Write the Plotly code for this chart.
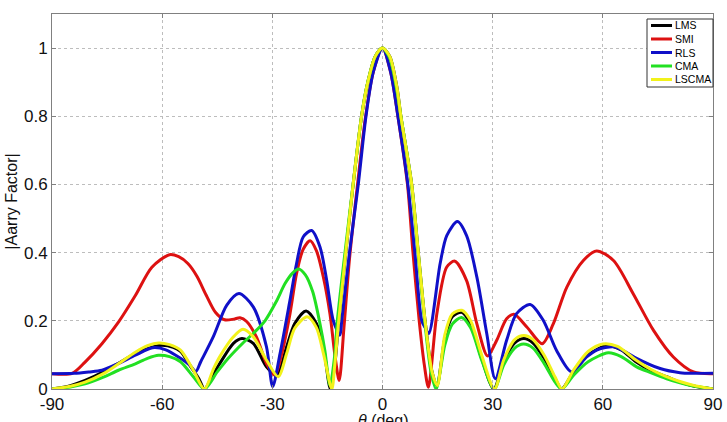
import plotly.graph_objects as go

# ---------------- data ----------------
lms_theta = [-90, -85, -81, -76, -72, -67.3, -63, -60, -57, -55, -52, -50, -48.5, -46, -44.3, -40.6, -38.3,
             -35.2, -31.6, -28.8, -26.1, -23.9, -20.8, -18, -16.1, -14.2, -13, -12, -10, -8, -5.7, -4, -2, 0,
             2, 4, 5, 7.95, 9.75, 11.6, 13.5, 14.8, 17, 19, 21.6, 24, 27, 30.3, 33, 36, 38.5, 41, 44, 47, 48.8,
             52, 56, 61, 65, 69, 73, 77.4, 81, 85, 90]
lms_val = [0, 0.01, 0.025, 0.05, 0.075, 0.104, 0.122, 0.128, 0.122, 0.11, 0.062, 0.03, 0.0, 0.045, 0.075, 0.134, 0.148,
           0.134, 0.065, 0.04, 0.124, 0.192, 0.229, 0.192, 0.124, 0.0, 0.07, 0.19, 0.4, 0.6, 0.8, 0.9, 0.975, 1.0,
           0.975, 0.88, 0.8, 0.6, 0.4, 0.2, 0.05, 0.01, 0.15, 0.212, 0.225, 0.19, 0.09, 0.0, 0.08, 0.135, 0.148, 0.135, 0.09, 0.03, 0.0,
           0.05, 0.1, 0.127, 0.115, 0.08, 0.055, 0.036, 0.02, 0.008, 0]

smi_theta = [-90, -84.5, -81, -76.4, -71.9, -67.3, -62.8, -58, -55.5, -53, -50.5, -48, -45.5, -43, -40.5, -38.8, -37,
             -34.3, -31.6, -29.3, -27.5, -25.2, -23.4, -21.6, -19.7, -18, -16.1, -14.3, -12.9, -11.8, -10.5, -9,
             -6.8, -4.6, -2.5, 0, 2.2, 4.2, 6.8, 8.3, 10.0, 11.4, 12.5, 14.8, 17.5, 19.7, 22.9, 25.7, 28.6, 31.1,
             33.8, 35.8, 39.3, 43.5, 46.5, 50.2, 54.7, 58.3, 62.9, 68.3, 73.8, 79.2, 84.7, 90]
smi_val = [0.045, 0.046, 0.079, 0.133, 0.196, 0.274, 0.357, 0.394, 0.388, 0.368, 0.33, 0.275, 0.225, 0.203, 0.205, 0.209, 0.198,
           0.152, 0.075, 0.04, 0.1, 0.22, 0.339, 0.41, 0.435, 0.406, 0.328, 0.22, 0.094, 0.025, 0.18, 0.38,
           0.6, 0.8, 0.93, 1.0, 0.93, 0.8, 0.6, 0.4, 0.2, 0.07, 0.005, 0.221, 0.358, 0.375, 0.318, 0.191, 0.097, 0.143,
           0.206, 0.219, 0.182, 0.133, 0.191, 0.299, 0.377, 0.405, 0.377, 0.279, 0.172, 0.094, 0.05, 0.045]

rls_theta = [-90, -84, -80, -76.4, -71.9, -67.3, -62.6, -59, -55, -52.5, -50.8, -49.5, -46.1, -42.4, -39.1, -35.2,
             -31.6, -29.9, -27.9, -25.2, -23.4, -21.6, -19.3, -17, -15.2, -13.4, -11.6, -11.1, -9, -6.6, -4.5,
             -2.5, 0, 2.2, 4.2, 6.9, 8.8, 10.7, 11.6, 12.6, 15.7, 17.5, 20.4, 22.9, 25.7, 28.4, 30.7, 33.8, 36.5,
             40.2, 43.8, 47.4, 51.5, 55.6, 58.5, 62.9, 66, 69.2, 75.6, 81, 85, 90]
rls_val = [0.045, 0.046, 0.05, 0.055, 0.075, 0.099, 0.121, 0.115, 0.09, 0.07, 0.052, 0.08, 0.153, 0.246, 0.28, 0.241,
           0.124, 0.007, 0.104, 0.26, 0.368, 0.446, 0.465, 0.416, 0.319, 0.201, 0.158, 0.2, 0.4, 0.6, 0.8,
           0.93, 1.0, 0.93, 0.8, 0.6, 0.4, 0.2, 0.18, 0.163, 0.368, 0.45, 0.491, 0.45, 0.328, 0.162, 0.03, 0.143, 0.221,
           0.248, 0.201, 0.113, 0.05, 0.094, 0.115, 0.124, 0.11, 0.09, 0.06, 0.048, 0.046, 0.046]

cma_theta = [-90, -85, -81, -76, -71.9, -67.3, -64, -61, -58, -55, -51.5, -48.5, -45, -42, -38, -35, -32, -29,
             -26.5, -24.5, -22.9, -21, -19, -17, -15.7, -14.3, -13, -12.3, -10, -8, -5.7, -4, -2, 0, 2, 4, 5, 7.9,
             9.7, 11.5, 13.2, 14.6, 17, 19, 21.5, 24, 27, 30.4, 33, 36, 38.4, 41, 44, 47, 48.8, 52, 56, 61.5, 65,
             69.2, 73, 77.4, 81, 85, 90]
cma_val = [0, 0.006, 0.015, 0.035, 0.055, 0.074, 0.09, 0.099, 0.095, 0.08, 0.036, 0.0, 0.05, 0.09, 0.135, 0.165, 0.2, 0.255,
           0.31, 0.34, 0.352, 0.335, 0.285, 0.19, 0.113, 0.01, 0.1, 0.2, 0.42, 0.6, 0.8, 0.9, 0.975, 1.0, 0.97, 0.87, 0.8, 0.6,
           0.4, 0.2, 0.05, 0.0, 0.13, 0.19, 0.21, 0.18, 0.085, 0.0, 0.07, 0.12, 0.132, 0.12, 0.075, 0.02, 0.0, 0.04, 0.08, 0.106, 0.095,
           0.065, 0.048, 0.03, 0.018, 0.008, 0]

lscma_theta = [-90, -85, -81, -76, -71.9, -67.3, -64, -61, -58, -55, -51.5, -48.5, -46, -44.3, -40.6, -38, -35.2,
               -31.6, -28.4, -26.1, -23.9, -20.5, -18, -16, -13.8, -13, -12, -10, -8, -5.7, -4, -2, 0, 2, 4, 5,
               7.95, 9.75, 11.6, 13.5, 14.9, 17, 19, 21.6, 24, 27, 30.5, 33, 36, 38.5, 41, 44, 47, 48.9, 52, 56,
               60, 64, 69, 73, 77, 81, 85, 90]
lscma_val = [0, 0.008, 0.02, 0.045, 0.074, 0.108, 0.127, 0.135, 0.13, 0.114, 0.055, 0.0, 0.06, 0.095, 0.153, 0.175, 0.153,
             0.085, 0.036, 0.104, 0.178, 0.212, 0.18, 0.1, 0.0, 0.07, 0.19, 0.4, 0.6, 0.8, 0.9, 0.975, 1.0, 0.975, 0.88, 0.8,
             0.6, 0.4, 0.2, 0.05, 0.01, 0.16, 0.22, 0.231, 0.2, 0.1, 0.0, 0.085, 0.145, 0.157, 0.145, 0.1, 0.035, 0.0, 0.055, 0.11,
             0.132, 0.125, 0.085, 0.058, 0.038, 0.022, 0.01, 0]

series_names = ["LMS", "SMI", "RLS", "CMA", "LSCMA"]
series_colors = ["#000000", "#dd1111", "#1010c8", "#22e022", "#f2f21a"]
series_theta = [lms_theta, smi_theta, rls_theta, cma_theta, lscma_theta]
series_vals = [lms_val, smi_val, rls_val, cma_val, lscma_val]

x_ticks = [-90, -60, -30, 0, 30, 60, 90]
y_ticks = [0, 0.2, 0.4, 0.6, 0.8, 1]
y_tick_labels = ["0", "0.2", "0.4", "0.6", "0.8", "1"]

# ---------------- figure ----------------
fig = go.Figure()
for name, th, v, col in zip(series_names, series_theta, series_vals, series_colors):
    fig.add_trace(go.Scatter(x=th, y=v, mode="lines", name=name, showlegend=False,
                             line=dict(color=col, width=3, shape="spline", smoothing=0.8)))

FONT = "Liberation Sans, Arial, sans-serif"
tick_font = dict(family=FONT, size=17, color="#111111")

W, H = 727, 422
ML, MR, MT, MB = 52, 14, 14, 33
PW, PH = W - ML - MR, H - MT - MB


def px(xp):
    return (xp - ML) / PW


def py(yp):
    return (H - MB - yp) / PH


fig.update_layout(
    width=W, height=H,
    margin=dict(l=ML, r=MR, t=MT, b=MB),
    paper_bgcolor="white", plot_bgcolor="white",
    showlegend=False,
    xaxis=dict(range=[-90, 90], tickvals=x_ticks, ticktext=[str(t) for t in x_ticks],
               showgrid=True, gridcolor="#bdbdbd", griddash="dot", gridwidth=1,
               showline=True, mirror="ticks", linecolor="#808080", linewidth=1,
               ticks="inside", ticklen=4, tickcolor="#808080",
               zeroline=False, tickfont=tick_font, automargin=False),
    yaxis=dict(range=[0, 1.1], tickvals=y_ticks, ticktext=y_tick_labels,
               showgrid=True, gridcolor="#bdbdbd", griddash="dot", gridwidth=1,
               showline=True, mirror="ticks", linecolor="#808080", linewidth=1,
               ticks="inside", ticklen=4, tickcolor="#808080",
               zeroline=False, tickfont=tick_font, automargin=False,
               title=dict(text="|Aarry Factor|", standoff=2,
                          font=dict(family=FONT, size=16, color="#111111"))),
)

fig.add_annotation(text="<i>θ</i> (deg)", xref="paper", yref="paper", x=0.5, y=0,
                   xanchor="center", yanchor="top", yshift=-21, showarrow=False,
                   font=dict(family=FONT, size=16, color="#111111"))

# ---- legend box (MATLAB style, compact) ----
box_l, box_r, box_t, box_b = 647, 713, 19, 87
fig.add_shape(type="rect", xref="paper", yref="paper",
              x0=px(box_l), x1=px(box_r), y0=py(box_b), y1=py(box_t),
              line=dict(color="#333333", width=1), fillcolor="white", layer="above")
row_y0, row_step = 25.5, 13.5
for i, (name, col) in enumerate(zip(series_names, series_colors)):
    yy = row_y0 + i * row_step
    fig.add_shape(type="line", xref="paper", yref="paper",
                  x0=px(651), x1=px(672), y0=py(yy), y1=py(yy),
                  line=dict(color=col, width=3), layer="above")
    fig.add_annotation(text=name, xref="paper", yref="paper", x=px(672.5), y=py(yy),
                       xanchor="left", yanchor="middle", showarrow=False,
                       font=dict(family=FONT, size=10.5, color="#000000"))

fig.write_html("out.html")
